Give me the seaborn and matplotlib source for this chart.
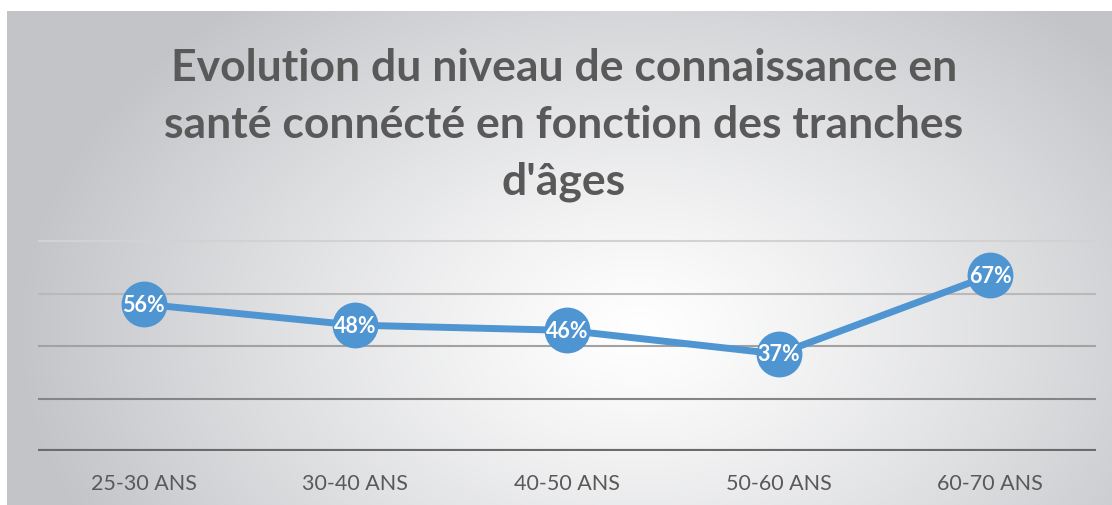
import numpy as np
import pandas as pd
import seaborn as sns
import matplotlib.pyplot as plt

# data
tranches = ["25-30 ANS", "30-40 ANS", "40-50 ANS", "50-60 ANS", "60-70 ANS"]
niveau = [56, 48, 46, 37, 67]

df = pd.DataFrame({"tranche": tranches, "niveau": niveau})
df["pos"] = range(len(df))

sns.set_theme(style="white")
plt.rcParams["font.family"] = ["Lato", "DejaVu Sans"]

fig = plt.figure(figsize=(11.12, 5.06), dpi=100)

# radial gradient background (grey edges, white centre)
bg = fig.add_axes([7 / 1112, 0, 1105 / 1112, 494 / 506])
h, w = 494, 1105
yy, xx = np.mgrid[0:h, 0:w]
r = np.sqrt(((xx - 630) / 620) ** 2 + ((yy - 320) / 430) ** 2)
r = np.clip(r, 0, 1)
light = np.array([1.0, 1.0, 1.0])
dark = np.array([0.765, 0.77, 0.785])
t = r[..., None] ** 1.2
img = light[None, None, :] * (1 - t) + dark[None, None, :] * t
bg.imshow(img, aspect="auto", extent=[0, 1, 0, 1])
bg.axis("off")

ax = fig.add_axes([38 / 1112, 54 / 506, 1058 / 1112, 236 / 506])
ax.patch.set_alpha(0)

grid_colors = ["#d2d2d2", "#b9b9b9", "#a2a2a2", "#858585"]
for val, c in zip([80, 60, 40, 20], grid_colors):
    ax.axhline(val, color=c, lw=1.5, zorder=1)
ax.axhline(0, color="#6b6b6b", lw=3, zorder=1)

sns.lineplot(data=df, x="pos", y="niveau", ax=ax, color="#4f95d1", lw=5,
             marker="o", markersize=33, markeredgewidth=0, zorder=3)

for x, v in zip(df["pos"], df["niveau"]):
    ax.text(x, v, f"{v}%", ha="center", va="center", color="white",
            fontsize=15.5, fontweight="bold", zorder=4)

ax.set_xlim(-0.5, 4.5)
ax.set_ylim(0, 90)
ax.set_xticks(df["pos"])
ax.set_xticklabels(tranches, fontsize=15.5, color="#595959")
ax.tick_params(axis="x", length=0, pad=16)
ax.set_yticks([])
ax.set_xlabel("")
ax.set_ylabel("")
for s in ax.spines.values():
    s.set_visible(False)

fig.text(0.507, 0.753, "Evolution du niveau de connaissance en\nsanté connécté en fonction des tranches\nd'âges",
         ha="center", va="center", fontsize=32, fontweight="bold", color="#595959",
         linespacing=1.5)

fig.savefig("out.png", dpi=100)
